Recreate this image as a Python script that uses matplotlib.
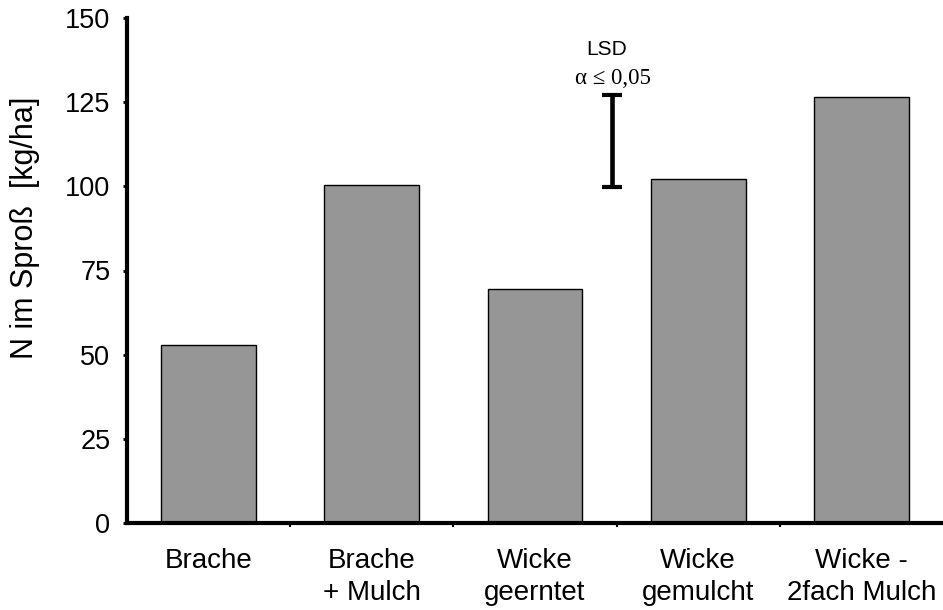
import matplotlib
matplotlib.use('Agg')
import matplotlib.pyplot as plt
import numpy as np

# Werte
categories = ['Brache', 'Brache\n+ Mulch', 'Wicke\ngeerntet', 'Wicke\ngemulcht', 'Wicke -\n2fach Mulch']
n_spross = [53.0, 100.4, 69.5, 102.1, 126.4]
y_ticks = [0, 25, 50, 75, 100, 125, 150]

# LSD-Balken (Grenzdifferenz)
lsd_x = 2.47
lsd_base = 99.8
lsd_value = 27.3

sans = ['Liberation Sans', 'DejaVu Sans']
plt.rcParams['font.family'] = sans

fig = plt.figure(figsize=(9.43, 6.10), dpi=100)
ax = fig.add_axes([127 / 943, 87 / 610, 816 / 943, 505 / 610])

x = np.arange(len(categories))
ax.bar(x, n_spross, width=0.58, color='#969696', edgecolor='black', linewidth=1.0, zorder=2)

# LSD
ax.errorbar([lsd_x], [lsd_base + lsd_value / 2], yerr=[lsd_value / 2], fmt='none',
            ecolor='black', elinewidth=3.3, capsize=7.5, capthick=3, zorder=3)
ax.text(lsd_x - 0.03, lsd_base + lsd_value + 13.4, 'LSD', ha='center', va='center',
        fontsize=15, family=sans)
ax.text(lsd_x + 0.005, lsd_base + lsd_value + 5.0, 'α ≤ 0,05', ha='center', va='center',
        fontsize=16.5, family=['Liberation Serif', 'DejaVu Serif'])

ax.set_xlim(-0.5, len(categories) - 0.5)
ax.set_ylim(0, 150)
ax.set_yticks(y_ticks)
ax.set_xticks(x)
ax.set_xticklabels(categories, fontsize=20, linespacing=1.3)
ax.set_xticks(x[:-1] + 0.5, minor=True)
ax.tick_params(axis='x', which='major', length=0, pad=18)
ax.tick_params(axis='x', which='minor', length=3, width=1.5, direction='out')
ax.tick_params(axis='y', labelsize=19.5, length=3, width=2, pad=9)

fig.text(25 / 943, 1 - 228 / 610, 'N im Sproß  [kg/ha]', rotation=90,
         ha='center', va='center', fontsize=22)

for s in ['top', 'right']:
    ax.spines[s].set_visible(False)
for s in ['left', 'bottom']:
    ax.spines[s].set_linewidth(3)

fig.savefig('out.png', dpi=100)
